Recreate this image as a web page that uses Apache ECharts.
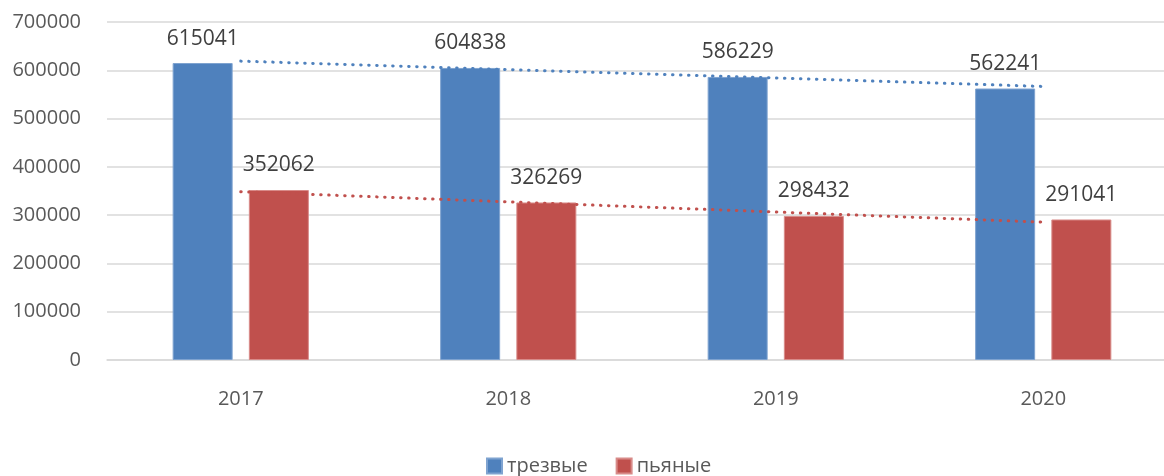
<!DOCTYPE html>
<html>
<head>
<meta charset="utf-8">
<script src="https://cdn.jsdelivr.net/npm/echarts@6/dist/echarts.min.js"></script>
<style>
  html, body { margin: 0; padding: 0; background: #fff; }
  #chart { width: 1164px; height: 476px; }
</style>
</head>
<body>
<div id="chart"></div>
<script>
// данные
const years = ['2017', '2018', '2019', '2020']
const sober = [615041, 604838, 586229, 562241]
const drunk = [352062, 326269, 298432, 291041]
// линии тренда, значения (начало и конец)
const soberTrend = [619000, null, null, 566500]
const drunkTrend = [348500, null, null, 285500]
const yTicks = { min: 0, max: 700000, interval: 100000 }

const textColor = '#595959'
const font = '"Open Sans", "DejaVu Sans", sans-serif'

const chart = echarts.init(document.getElementById('chart'))

const barLabel = {
  show: true,
  position: 'top',
  distance: 14,
  color: '#404040',
  fontSize: 21,
  fontFamily: font
}

const trendStyle = color => ({
  color: color,
  width: 3,
  type: [0.5, 7.5],
  cap: 'round'
})

chart.setOption({
  animation: false,
  textStyle: { fontFamily: font },
  grid: { left: 107, width: 1070, top: 22, height: 338, outerBoundsMode: 'none' },
  legend: {
    data: ['трезвые', 'пьяные'],
    top: 456,
    left: 486,
    padding: 0,
    itemWidth: 15,
    itemHeight: 15,
    itemGap: 28,
    icon: 'rect',
    textStyle: { color: textColor, fontSize: 20, lineHeight: 20, fontFamily: font }
  },
  xAxis: [{
    type: 'category',
    data: years,
    axisTick: { show: false },
    axisLine: { lineStyle: { color: '#d9d9d9', width: 1.5 } },
    axisLabel: { color: textColor, fontSize: 20, margin: 29, fontFamily: font }
  }],
  yAxis: [{
    type: 'value',
    min: yTicks.min,
    max: yTicks.max,
    interval: yTicks.interval,
    axisLabel: {
      color: textColor,
      fontSize: 20,
      margin: 26,
      fontFamily: font,
      formatter: v => String(v)
    },
    splitLine: { lineStyle: { color: '#d9d9d9', width: 1.5 } },
    axisLine: { show: false },
    axisTick: { show: false }
  }],
  series: [
    {
      name: 'трезвые',
      type: 'bar',
      data: sober,
      barWidth: 60,
      barGap: '27%',
      itemStyle: { color: '#4F81BD', borderColor: '#7fa3d0', borderWidth: 1 },
      label: barLabel
    },
    {
      name: 'пьяные',
      type: 'bar',
      data: drunk,
      barWidth: 60,
      itemStyle: { color: '#C0504D', borderColor: '#d88b89', borderWidth: 1 },
      label: barLabel
    },
    {
      name: 'тренд трезвые',
      type: 'line',
      data: soberTrend,
      connectNulls: true,
      symbol: 'none',
      silent: true,
      lineStyle: trendStyle('#4F81BD'),
      z: 5
    },
    {
      name: 'тренд пьяные',
      type: 'line',
      data: drunkTrend,
      connectNulls: true,
      symbol: 'none',
      silent: true,
      lineStyle: trendStyle('#C0504D'),
      z: 5
    }
  ]
})
</script>
</body>
</html>
